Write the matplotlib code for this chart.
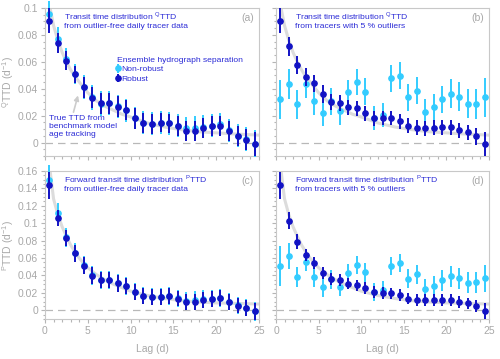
import numpy as np
import matplotlib
matplotlib.use("Agg")
import matplotlib.pyplot as plt
from matplotlib.ticker import MultipleLocator

plt.rcParams["font.family"] = ["Liberation Sans", "DejaVu Sans"]
plt.rcParams["mathtext.fontset"] = "custom"
plt.rcParams["mathtext.rm"] = "Liberation Sans"

# ---- data ----
lags = np.arange(0.5, 25, 1.0)

true_lag = [0.5, 1, 1.5, 2, 2.5, 3, 3.5, 4, 4.5, 5, 6, 7, 8, 9, 10, 12, 14, 16, 18, 20, 22, 25]
q_true = [0.103, 0.087, 0.076, 0.067, 0.060, 0.054, 0.049, 0.045, 0.041, 0.037, 0.031, 0.027,
          0.024, 0.021, 0.019, 0.0145, 0.0115, 0.0095, 0.008, 0.0072, 0.0064, 0.0055]
p_true = [0.168, 0.128, 0.110, 0.096, 0.085, 0.075, 0.067, 0.060, 0.054, 0.049, 0.041, 0.035,
          0.030, 0.026, 0.022, 0.017, 0.0135, 0.011, 0.0095, 0.0085, 0.008, 0.0072]

# (a) QTTD, outlier-free
a_rob = [0.0905, 0.0739, 0.0609, 0.0507, 0.0410, 0.0333, 0.0291, 0.0291, 0.0266, 0.0239, 0.0179,
         0.0147, 0.0137, 0.0147, 0.0142, 0.0122, 0.0087, 0.0085, 0.0109, 0.0122, 0.0124, 0.0087,
         0.0050, 0.0022, -0.0012]
a_rob_err = [0.0093, 0.0075, 0.0070, 0.0062, 0.0080, 0.0080, 0.0080, 0.0080, 0.0078, 0.0075, 0.0075,
             0.0075, 0.0072, 0.0072, 0.0072, 0.0072, 0.0072, 0.0072, 0.0072, 0.0072, 0.0072, 0.0072,
             0.0075, 0.0078, 0.0090]
a_non = [0.0955, 0.0770, 0.0620, 0.0510, 0.0415, 0.0335, 0.0290, 0.0293, 0.0268, 0.0240, 0.0182,
         0.0148, 0.0140, 0.0148, 0.0143, 0.0125, 0.0105, 0.0110, 0.0118, 0.0125, 0.0134, 0.0090,
         0.0052, 0.0025, -0.0010]
a_non_err = [0.0095, 0.0085, 0.0080, 0.0075, 0.0090, 0.0090, 0.0090, 0.0090, 0.0088, 0.0085, 0.0085,
             0.0085, 0.0085, 0.0085, 0.0085, 0.0085, 0.0085, 0.0085, 0.0085, 0.0085, 0.0085, 0.0085,
             0.0085, 0.0088, 0.0100]

# (b) QTTD, 5 % outliers
b_rob = [0.0905, 0.0714, 0.0577, 0.0488, 0.0440, 0.0361, 0.0303, 0.0296, 0.0261, 0.0254, 0.0216,
         0.0179, 0.0182, 0.0182, 0.0159, 0.0124, 0.0109, 0.0107, 0.0109, 0.0114, 0.0112, 0.0092,
         0.0077, 0.0045, -0.0010]
b_rob_err = [0.0093, 0.0068, 0.0065, 0.0065, 0.0065, 0.0065, 0.0060, 0.0058, 0.0058, 0.0058, 0.0058,
             0.0058, 0.0055, 0.0055, 0.0055, 0.0055, 0.0055, 0.0055, 0.0055, 0.0055, 0.0055, 0.0055,
             0.0055, 0.0060, 0.0090]
b_non = [0.0323, 0.0433, 0.0284, 0.0433, 0.0308, 0.0221, 0.0308, 0.0231, 0.0373, 0.0450, 0.0376,
         0.0180, 0.0206, 0.0478, 0.0495, 0.0336, 0.0386, 0.0224, 0.0261, 0.0321, 0.0363, 0.0341,
         0.0289, 0.0286, 0.0338]
b_non_err = [0.0145, 0.0110, 0.0110, 0.0100, 0.0100, 0.0100, 0.0100, 0.0100, 0.0095, 0.0095, 0.0100,
             0.0090, 0.0090, 0.0100, 0.0100, 0.0100, 0.0100, 0.0100, 0.0100, 0.0100, 0.0110, 0.0110,
             0.0110, 0.0110, 0.0145]

# (c) PTTD, outlier-free
c_rob = [0.1434, 0.1060, 0.0829, 0.0655, 0.0512, 0.0397, 0.0347, 0.0347, 0.0308, 0.0278, 0.0212,
         0.0166, 0.0154, 0.0154, 0.0162, 0.0135, 0.0093, 0.0093, 0.0116, 0.0127, 0.0139, 0.0093,
         0.0054, 0.0027, -0.0012]
c_rob_err = [0.0160, 0.0090, 0.0095, 0.0095, 0.0095, 0.0096, 0.0096, 0.0096, 0.0096, 0.0096, 0.0090,
             0.0090, 0.0090, 0.0090, 0.0090, 0.0090, 0.0090, 0.0090, 0.0090, 0.0090, 0.0090, 0.0090,
             0.0090, 0.0090, 0.0100]
c_non = [0.1500, 0.1120, 0.0837, 0.0663, 0.0520, 0.0400, 0.0345, 0.0350, 0.0310, 0.0280, 0.0215,
         0.0168, 0.0158, 0.0158, 0.0165, 0.0138, 0.0105, 0.0123, 0.0135, 0.0133, 0.0142, 0.0098,
         0.0058, 0.0030, -0.0010]
c_non_err = [0.0170, 0.0110, 0.0105, 0.0105, 0.0105, 0.0105, 0.0105, 0.0105, 0.0105, 0.0105, 0.0100,
             0.0100, 0.0100, 0.0100, 0.0100, 0.0100, 0.0100, 0.0100, 0.0100, 0.0100, 0.0100, 0.0100,
             0.0100, 0.0100, 0.0110]

# (d) PTTD, 5 % outliers
d_rob = [0.1434, 0.1029, 0.0790, 0.0636, 0.0547, 0.0424, 0.0359, 0.0347, 0.0305, 0.0285, 0.0254,
         0.0208, 0.0197, 0.0193, 0.0173, 0.0135, 0.0116, 0.0116, 0.0116, 0.0116, 0.0116, 0.0096,
         0.0081, 0.0050, -0.0008]
d_rob_err = [0.0154, 0.0096, 0.0085, 0.0070, 0.0070, 0.0068, 0.0066, 0.0066, 0.0066, 0.0066, 0.0066,
             0.0066, 0.0066, 0.0066, 0.0066, 0.0066, 0.0066, 0.0066, 0.0066, 0.0066, 0.0066, 0.0066,
             0.0066, 0.0066, 0.0095]
d_non = [0.0509, 0.0625, 0.0382, 0.0559, 0.0382, 0.0266, 0.0355, 0.0270, 0.0432, 0.0517, 0.0436,
         0.0208, 0.0231, 0.0513, 0.0547, 0.0362, 0.0412, 0.0247, 0.0281, 0.0347, 0.0393, 0.0366,
         0.0316, 0.0324, 0.0366]
d_non_err = [0.0230, 0.0150, 0.0120, 0.0110, 0.0110, 0.0110, 0.0110, 0.0110, 0.0105, 0.0105, 0.0110,
             0.0100, 0.0100, 0.0104, 0.0104, 0.0110, 0.0110, 0.0110, 0.0110, 0.0120, 0.0120, 0.0120,
             0.0120, 0.0120, 0.0154]

panels = [
    ("a", q_true, a_rob, a_rob_err, a_non, a_non_err,
     "Transit time distribution $^{\\mathrm{Q}}$TTD\nfrom outlier-free daily tracer data"),
    ("b", q_true, b_rob, b_rob_err, b_non, b_non_err,
     "Transit time distribution $^{\\mathrm{Q}}$TTD\nfrom tracers with 5 % outliers"),
    ("c", p_true, c_rob, c_rob_err, c_non, c_non_err,
     "Forward transit time distribution $^{\\mathrm{P}}$TTD\nfrom outlier-free daily tracer data"),
    ("d", p_true, d_rob, d_rob_err, d_non, d_non_err,
     "Forward transit time distribution $^{\\mathrm{P}}$TTD\nfrom tracers with 5 % outliers"),
]

DARK = "#1212c4"
LIGHT = "#33ccff"
TXT = "#2b2bd6"
GRAY = "#a8a8a8"
FS = 6.1

fig = plt.figure(figsize=(5.0, 3.59), dpi=100)
rects = {"a": [0.090, 0.5655, 0.428, 0.4123], "b": [0.552, 0.5655, 0.426, 0.4123],
         "c": [0.090, 0.1114, 0.428, 0.4123], "d": [0.552, 0.1114, 0.426, 0.4123]}

for key, true, rob, rob_e, non, non_e, title in panels:
    ax = fig.add_axes(rects[key])
    ax.plot(true_lag, true, color="#dcdcdc", lw=2.2, zorder=1, solid_capstyle="round")
    ax.axhline(0, color="#b8b8b8", lw=0.9, ls=(0, (6, 4)), zorder=0.5)
    h_non = ax.errorbar(lags, non, yerr=non_e, fmt="o", color=LIGHT, ms=3.8, elinewidth=1.4,
                        capsize=0, zorder=3, clip_on=False)
    h_rob = ax.errorbar(lags, rob, yerr=rob_e, fmt="o", color=DARK, ms=3.8, elinewidth=1.4,
                        capsize=0, zorder=4, clip_on=False)
    for c in (h_non, h_rob):
        for art in c.lines[2]:
            art.set_clip_on(False)
    top = 0.1 if key in "ab" else 0.16
    ax.set_xlim(0, 25)
    ax.set_ylim(-0.01, top)
    ax.xaxis.set_major_locator(MultipleLocator(5))
    ax.xaxis.set_minor_locator(MultipleLocator(1))
    ax.yaxis.set_major_locator(MultipleLocator(0.02))
    ax.yaxis.set_minor_locator(MultipleLocator(0.005))
    ax.tick_params(which="both", direction="out", color="#b5b5b5", labelcolor=GRAY,
                   labelsize=7.5, width=0.8, pad=2)
    ax.tick_params(which="major", length=3)
    ax.tick_params(which="minor", length=1.8)
    for s in ax.spines.values():
        s.set_color("#c8c8c8")
        s.set_linewidth(0.8)
    ax.yaxis.set_major_formatter(plt.FuncFormatter(lambda v, p: f"{v:g}"))
    if key in "bd":
        ax.set_yticklabels([])
    if key in "ab":
        ax.set_xticklabels([])
    else:
        ax.set_xlabel("Lag (d)", color=GRAY, fontsize=7.5, labelpad=6)
    if key in "ac":
        sup = "Q" if key == "a" else "P"
        ax.set_ylabel("$^{\\mathrm{" + sup + "}}$TTD (d$^{-1}$)", color=GRAY, fontsize=7.5)
        ax.yaxis.set_label_coords(-0.135, 0.5)
    ax.text(0.09, 0.985, title, transform=ax.transAxes, ha="left", va="top",
            color=TXT, fontsize=FS, linespacing=1.2)
    ax.text(0.975, 0.965, f"({key})", transform=ax.transAxes, ha="right", va="top",
            color=GRAY, fontsize=7.5)
    if key == "a":
        leg = ax.legend([h_non, h_rob], ["Non-robust", "Robust"], loc="upper left",
                        bbox_to_anchor=(0.335, 0.67), frameon=False, fontsize=FS,
                        title="Ensemble hydrograph separation", title_fontsize=FS,
                        handlelength=0.4, handletextpad=0.15, labelspacing=0.2,
                        borderpad=0, borderaxespad=0)
        leg.get_title().set_color(TXT)
        leg._legend_box.align = "left"
        for t in leg.get_texts():
            t.set_color(TXT)
        ax.annotate("True TTD from\nbenchmark model\nage tracking", xy=(3.9, 0.036),
                    xytext=(0.45, 0.0205), ha="left", va="top", color=TXT, fontsize=FS,
                    linespacing=1.2,
                    arrowprops=dict(arrowstyle="-|>", color="#cccccc", lw=1.2,
                                    shrinkA=0, shrinkB=1, mutation_scale=7,
                                    relpos=(0.35, 1.0)))

fig.savefig("out.png", dpi=100)
